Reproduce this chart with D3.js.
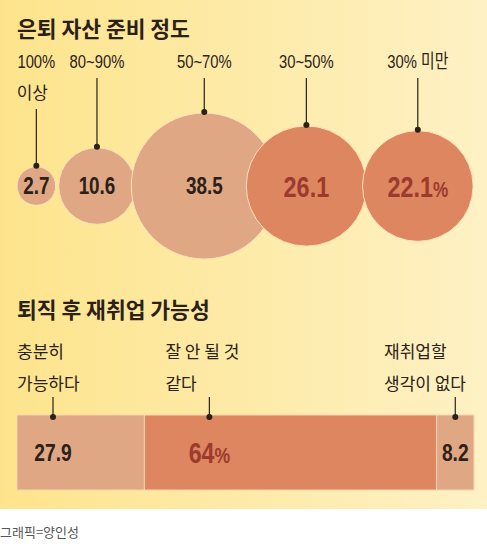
<!DOCTYPE html>
<html>
<head>
<meta charset="utf-8">
<script src="https://cdn.jsdelivr.net/npm/d3@7"></script>
<style>
  body { margin: 0; background: #fff; }
  svg { display: block; }
</style>
</head>
<body>
<div id="chart"></div>
<script>
// data
var prepTitle = "은퇴 자산 준비 정도";
var prepLabels = [["100%", "이상"], ["80~90%"], ["50~70%"], ["30~50%"], ["30% 미만"]];
var prepValues = [2.7, 10.6, 38.5, 26.1, 22.1];

var jobTitle = "퇴직 후 재취업 가능성";
var jobLabels = [["충분히", "가능하다"], ["잘 안 될 것", "같다"], ["재취업할", "생각이 없다"]];
var jobValues = [27.9, 64, 8.2];

var credit = "그래픽=양인성";

function init() {
  var w = 487;
  var h = 546;
  var numFont = "'Liberation Sans', Arial, sans-serif";
  var korFont = "'Noto Sans CJK KR', sans-serif";
  var light = "#dfa783";
  var dark = "#dd8660";
  var ink = "#2b2118";
  var red = "#9c3a2e";
  var squeeze = 0.78;

  var svg = d3.select("#chart")
    .append("svg")
    .attr("width", w)
    .attr("height", h);

  // condensed text: a group that is squeezed horizontally
  function narrowText(parent, x, y, k) {
    return parent.append("g")
      .attr("transform", "translate(" + x + "," + y + ") scale(" + (k || squeeze) + ",1)")
      .append("text");
  }

  // background gradient
  var defs = svg.append("defs");
  var grad = defs.append("linearGradient")
    .attr("id", "bg")
    .attr("x1", "0%").attr("y1", "0%")
    .attr("x2", "100%").attr("y2", "0%");
  grad.append("stop").attr("offset", "0%").attr("stop-color", "#fde48c");
  grad.append("stop").attr("offset", "100%").attr("stop-color", "#fef1c4");

  svg.append("rect")
    .attr("x", 0).attr("y", 0)
    .attr("width", w).attr("height", 509)
    .attr("fill", "url(#bg)");

  // ---------- circles ----------
  svg.append("text")
    .attr("x", 17).attr("y", 37)
    .attr("font-family", korFont)
    .attr("font-size", "21.5px")
    .attr("font-weight", "bold")
    .attr("fill", ink)
    .text(prepTitle);

  var r = d3.scaleSqrt()
    .domain([0, d3.max(prepValues)])
    .range([0, 73]);

  // overlap between neighbouring circles (layout)
  var overlap = [0, -3, 4, 31, 4];
  var cy = 186;
  var cx = [];
  prepValues.forEach(function (v, i) {
    if (i === 0) cx.push(17 + r(v));
    else cx.push(cx[i - 1] + r(prepValues[i - 1]) + r(v) - overlap[i]);
  });

  var isDark = function (i) { return i >= 3; };
  var numSize = function (i) { return isDark(i) ? 30 : 23; };

  var circleLayer = svg.append("g");
  prepValues.forEach(function (d, i) {
    circleLayer.append("circle")
      .attr("cx", cx[i])
      .attr("cy", cy)
      .attr("r", r(d))
      .attr("fill", isDark(i) ? dark : light)
      .attr("stroke", "#fbe2bb")
      .attr("stroke-width", 1);

    var t = narrowText(circleLayer, cx[i], cy + numSize(i) * 0.36, isDark(i) ? 0.78 : 0.82)
      .attr("text-anchor", "middle")
      .attr("font-family", numFont)
      .attr("font-weight", "bold")
      .attr("font-size", numSize(i) + "px")
      .attr("fill", isDark(i) ? red : ink);
    t.append("tspan").text(d);
    if (i === prepValues.length - 1) {
      t.append("tspan").attr("font-size", "22px").text("%");
    }
  });

  // labels + leader lines
  prepLabels.forEach(function (lines, i) {
    var g = svg.append("g");
    lines.forEach(function (line, j) {
      var isKor = /[가-힣]/.test(line) && !/\d/.test(line);
      if (isKor) {
        g.append("text")
          .attr("x", cx[i] - 4)
          .attr("y", 68 + j * 31)
          .attr("text-anchor", "middle")
          .attr("font-family", korFont)
          .attr("font-size", "17px")
          .attr("fill", ink)
          .text(line);
      } else {
        narrowText(g, cx[i], 68 + j * 31)
          .attr("text-anchor", "middle")
          .attr("font-family", numFont + ", " + korFont)
          .attr("font-size", "19px")
          .attr("fill", ink)
          .text(line);
      }
    });
    var top = 68 + (lines.length - 1) * 31 + 10;
    var bottom = cy - r(prepValues[i]) - 1;
    g.append("line")
      .attr("x1", cx[i]).attr("x2", cx[i])
      .attr("y1", top).attr("y2", bottom)
      .attr("stroke", ink)
      .attr("stroke-width", 1.2);
    g.append("circle")
      .attr("cx", cx[i]).attr("cy", bottom)
      .attr("r", 3)
      .attr("fill", ink);
  });

  // ---------- stacked bar ----------
  svg.append("text")
    .attr("x", 17).attr("y", 318)
    .attr("font-family", korFont)
    .attr("font-size", "21.5px")
    .attr("font-weight", "bold")
    .attr("fill", ink)
    .text(jobTitle);

  var total = d3.sum(jobValues);
  var x = d3.scaleLinear()
    .domain([0, total])
    .range([17, 474]);

  var starts = [];
  var acc = 0;
  jobValues.forEach(function (v) { starts.push(acc); acc += v; });

  var barTop = 415;
  var barH = 75;

  svg.append("g").selectAll("rect")
    .data(jobValues)
    .enter()
    .append("rect")
    .attr("x", function (d, i) { return x(starts[i]); })
    .attr("y", barTop)
    .attr("width", function (d, i) { return x(starts[i] + d) - x(starts[i]); })
    .attr("height", barH)
    .attr("fill", function (d, i) { return i === 1 ? dark : light; })
    .attr("stroke", "#f6d4b0")
    .attr("stroke-width", 1);

  // where the marker sits in each segment (layout)
  var markShift = [36, 65, null];
  var markX = jobValues.map(function (d, i) {
    var s = x(starts[i]);
    return markShift[i] === null ? (s + x(starts[i] + d)) / 2 : s + markShift[i];
  });

  var barNumSize = [24, 29, 24];
  var barLayer = svg.append("g");
  jobValues.forEach(function (d, i) {
    var t = narrowText(barLayer, markX[i], barTop + barH / 2 + barNumSize[i] * 0.36, 0.8)
      .attr("text-anchor", "middle")
      .attr("font-family", numFont)
      .attr("font-weight", "bold")
      .attr("font-size", barNumSize[i] + "px")
      .attr("fill", i === 1 ? red : ink);
    t.append("tspan").text(d);
    if (i === 1) t.append("tspan").attr("font-size", "22px").text("%");
  });

  var labelX = [x(starts[0]), markX[1] - 44, 384];
  jobLabels.forEach(function (lines, i) {
    var g = svg.append("g");
    lines.forEach(function (line, j) {
      g.append("text")
        .attr("x", labelX[i])
        .attr("y", 358 + j * 32)
        .attr("font-family", korFont)
        .attr("font-size", "17px")
        .attr("fill", ink)
        .text(line);
    });
    g.append("line")
      .attr("x1", markX[i]).attr("x2", markX[i])
      .attr("y1", 397).attr("y2", barTop)
      .attr("stroke", ink)
      .attr("stroke-width", 1.2);
    g.append("circle")
      .attr("cx", markX[i]).attr("cy", barTop + 2)
      .attr("r", 3)
      .attr("fill", ink);
  });

  // credit
  svg.append("text")
    .attr("x", 0).attr("y", 537)
    .attr("font-family", korFont)
    .attr("font-size", "13px")
    .attr("fill", "#555")
    .text(credit);
}

window.onload = init;
</script>
</body>
</html>
